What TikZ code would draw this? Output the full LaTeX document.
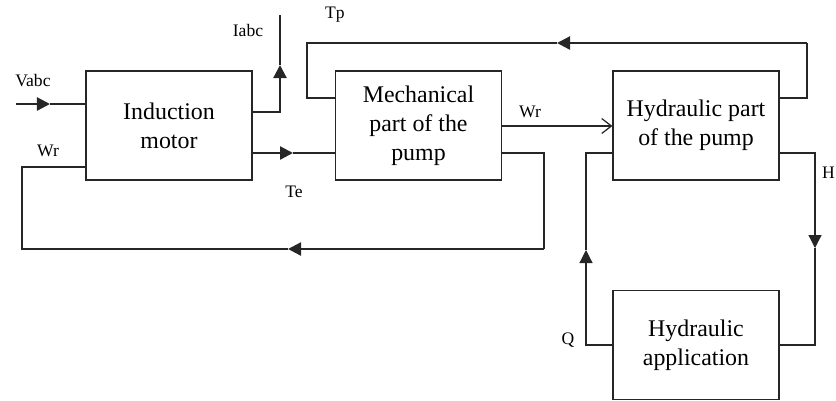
\documentclass[tikz,border=0pt]{standalone}
\usepackage{fontspec}
\setmainfont{Liberation Serif}
\usepackage{tikz}
\usetikzlibrary{positioning, arrows.meta}

\begin{document}
\begin{tikzpicture}[
    x=0.02cm, y=-0.02cm,
    block/.style={draw=black!85, line width=0.7pt, minimum width=3.32cm, minimum height=2.18cm, inner sep=0pt, align=center, font=\fontsize{13.6}{16.4}\selectfont},
    sig/.style={font=\fontsize{10}{12}\selectfont},
    wire/.style={draw=black!85, line width=0.7pt},
    arrowhd/.style={-{Triangle[length=7.4pt, width=7.4pt]}},
    bold/.style={line width=1.3pt, arrowhd}
]
\useasboundingbox (0,0) rectangle (836,400);

\node[block] (motor) at (169,125.5) {Induction\\motor};
\node[block] (mech) at (418.5,125.5) {Mechanical\\part of the\\pump};
\node[block] (hpump) at (696,125.5) {Hydraulic part\\of the pump};
\node[block] (happ) at (696,345) {Hydraulic\\application};

% bends and arrow points
\coordinate (vin) at (16,104);
\coordinate (va) at (50,104);
\coordinate (ib) at (280,112);
\coordinate (ia) at (280,65);
\coordinate (iout) at (280,15);
\coordinate (ta) at (293,153);
\coordinate (tp1) at (807,98);
\coordinate (tp2) at (807,43);
\coordinate (tpa) at (557,43);
\coordinate (tp3) at (307,43);
\coordinate (tp4) at (307,98);
\coordinate (wr) at (0,126);
\coordinate (fb1) at (544,153);
\coordinate (fb2) at (544,249);
\coordinate (fba) at (288,249);
\coordinate (fb3) at (22,249);
\coordinate (fb4) at (22,167);
\coordinate (h1) at (815,153);
\coordinate (ha) at (815,248);
\coordinate (h2) at (815,345);
\coordinate (q1) at (586,345);
\coordinate (qa) at (586,250);
\coordinate (q2) at (586,153);

% Vabc
\draw[wire, bold] (vin) -- (va);
\draw[wire] (va) -- (motor.west |- va);
% Iabc
\draw[wire, bold] (motor.east |- ib) -- (ib) -- (ia);
\draw[wire] (ia) -- (iout);
% Te
\draw[wire, bold] (motor.east |- ta) -- (ta);
\draw[wire] (ta) -- (mech.west |- ta);
% Tp
\draw[wire] (hpump.east |- tp1) -- (tp1) -- (tp2);
\draw[wire, bold] (tp2) -- (tpa);
\draw[wire] (tpa) -- (tp3) -- (tp4) -- (mech.west |- tp4);
% Wr
\draw[wire, -{Straight Barb[length=5.5pt, width=8.5pt]}] (mech.east |- wr) -- (hpump.west |- wr);
% Wr feedback
\draw[wire] (mech.east |- fb1) -- (fb1) -- (fb2);
\draw[wire, bold] (fb2) -- (fba);
\draw[wire] (fba) -- (fb3) -- (fb4) -- (motor.west |- fb4);
% H
\draw[wire, arrowhd] (hpump.east |- h1) -- (h1) -- (ha);
\draw[wire] (ha) -- (h2) -- (happ.east |- h2);
% Q
\draw[wire, arrowhd] (happ.west |- q1) -- (q1) -- (qa);
\draw[wire] (qa) -- (q2) -- (hpump.west |- q2);

\node[sig] (lvabc) at (33,81) {Vabc};
\node[sig] (liabc) at (248,30) {Iabc};
\node[sig] (ltp) at (335,15) {Tp};
\node[sig] (lwr1) at (48,151) {Wr};
\node[sig] (lte) at (294,192) {Te};
\node[sig] (lwr2) at (530,112) {Wr};
\node[sig, anchor=east, inner sep=0.5pt] (lh) at (836,173) {H};
\node[sig] (lq) at (568,340) {Q};
\end{tikzpicture}
\end{document}
